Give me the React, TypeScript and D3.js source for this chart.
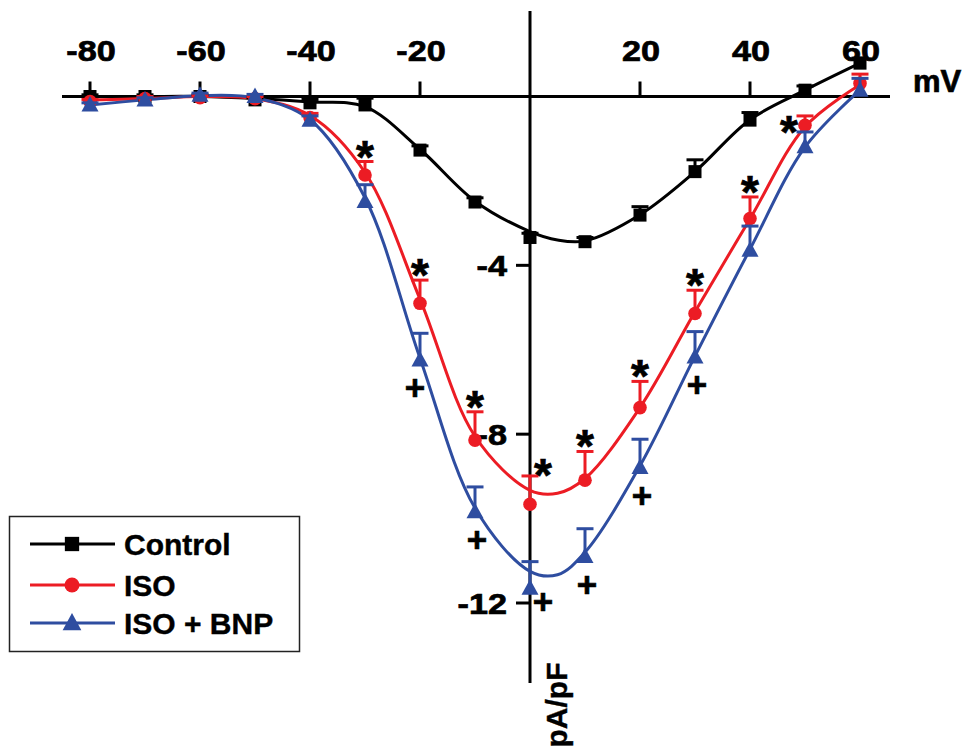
import React from "react";
import * as d3 from "d3";

// ---- data ----
const voltages = [-80, -70, -60, -50, -40, -30, -20, -10, 0, 10, 20, 30, 40, 50, 60];
const controlMean = [0, 0, 0, -0.08, -0.15, -0.2, -1.27, -2.5, -3.34, -3.44, -2.81, -1.78, -0.56, 0.15, 0.79];
const controlErr = [0.04, 0.04, 0.04, 0.05, 0.08, 0.16, 0.1, 0.1, 0.1, 0.1, 0.2, 0.28, 0.18, 0.1, 0.12];
const isoMean = [-0.12, -0.05, -0.03, -0.05, -0.5, -1.86, -4.9, -8.14, -9.66, -9.09, -7.37, -5.14, -2.89, -0.68, 0.31];
const isoErr = [0.05, 0.05, 0.05, 0.05, 0.1, 0.32, 0.55, 0.67, 0.67, 0.68, 0.62, 0.55, 0.51, 0.22, 0.22];
const bnpMean = [-0.2, -0.08, 0.03, 0.0, -0.56, -2.49, -6.24, -9.84, -11.65, -10.9, -8.79, -6.17, -3.64, -1.19, 0.15];
const bnpErr = [0.05, 0.05, 0.05, 0.05, 0.1, 0.4, 0.63, 0.59, 0.63, 0.66, 0.67, 0.6, 0.57, 0.35, 0.28];

// fitted curves
const fitVoltages = [-80, -70, -60, -50, -40, -30, -20, -10, 0, 5, 10, 20, 30, 40, 50, 60];
const controlFit = [0, 0, 0, -0.05, -0.13, -0.24, -1.25, -2.48, -3.2, -3.4, -3.42, -2.8, -1.78, -0.55, 0.15, 0.79];
const isoFit = [-0.08, -0.05, 0, -0.05, -0.45, -1.8, -4.8, -8.05, -9.33, -9.4, -9.05, -7.37, -5.1, -2.9, -0.72, 0.28];
const bnpFit = [-0.2, -0.08, 0.02, -0.03, -0.55, -2.4, -6.2, -9.75, -11.25, -11.33, -10.8, -8.75, -6.15, -3.62, -1.2, 0.15];

const xTicks = [-80, -60, -40, -20, 20, 40, 60];
const yTicks = [-4, -8, -12];
const starVoltages = [-30, -20, -10, 0, 10, 20, 30, 40, 50];
const plusVoltages = [-20, -10, 0, 10, 20, 30];
const legendLabels = ["Control", "ISO", "ISO + BNP"];

const BLACK = "#000000";
const RED = "#ec1c24";
const BLUE = "#2e4da0";
const FONT = "'Liberation Sans', Arial, Helvetica, sans-serif";

const x = d3.scaleLinear().domain([-80, 60]).range([90, 860]);
const y = d3.scaleLinear().domain([0, -12]).range([96.5, 603]);

function Marker({ kind, cx, cy, color, s = 1 }: { kind: string; cx: number; cy: number; color: string; s?: number }) {
  if (kind === "square") return <rect x={cx - 6.5 * s} y={cy - 6.5 * s} width={13 * s} height={13 * s} fill={color} />;
  if (kind === "circle") return <circle cx={cx} cy={cy} r={6.8 * s} fill={color} />;
  const p = d3.path();
  p.moveTo(cx, cy - 9 * s);
  p.lineTo(cx + 8.5 * s, cy + 6.5 * s);
  p.lineTo(cx - 8.5 * s, cy + 6.5 * s);
  p.closePath();
  return <path d={p.toString()} fill={color} />;
}

const series = [
  { name: legendLabels[0], mean: controlMean, err: controlErr, fit: controlFit, color: BLACK, kind: "square" },
  { name: legendLabels[1], mean: isoMean, err: isoErr, fit: isoFit, color: RED, kind: "circle" },
  { name: legendLabels[2], mean: bnpMean, err: bnpErr, fit: bnpFit, color: BLUE, kind: "triangle" },
];

export default function App() {
  const lineGen = d3
    .line<number>()
    .x((_, i) => x(fitVoltages[i]))
    .y((d) => y(d))
    .curve(d3.curveCatmullRom.alpha(0.5));

  const x0 = x(0);
  const y0 = y(0);
  const textStyle = { fontFamily: FONT, fontWeight: 700, stroke: BLACK, strokeWidth: 0.7 };

  return (
    <svg
      width={976}
      height={753}
      style={{ position: "absolute", left: 0, top: 0, background: "#fff" }}
    >
      <rect x={0} y={0} width={976} height={753} fill="#fff" />
      {/* axes */}
      <line x1={62} x2={890} y1={y0} y2={y0} stroke={BLACK} strokeWidth={3} />
      <line x1={x0} x2={x0} y1={11} y2={683} stroke={BLACK} strokeWidth={3} />
      {xTicks.map((t) => (
        <g key={"xt" + t}>
          <line x1={x(t)} x2={x(t)} y1={y0} y2={y0 - 15} stroke={BLACK} strokeWidth={3} />
          <text
            transform={`translate(${x(t) + 1},61) scale(1.14,1)`}
            textAnchor="middle"
            fontSize={30}
            {...textStyle}
          >
            {t}
          </text>
        </g>
      ))}
      {yTicks.map((t) => (
        <g key={"yt" + t}>
          <line x1={x0 - 14} x2={x0} y1={y(t)} y2={y(t)} stroke={BLACK} strokeWidth={3} />
          <text
            transform={`translate(507,${y(t) + 11}) scale(1.14,1)`}
            textAnchor="end"
            fontSize={30}
            {...textStyle}
          >
            {t}
          </text>
        </g>
      ))}
      <text x={913} y={92} fontSize={31} {...textStyle}>
        mV
      </text>
      <text
        transform={`translate(567,705) rotate(-90)`}
        textAnchor="middle"
        fontSize={30}
        {...textStyle}
        strokeWidth={0.4}
      >
        pA/pF
      </text>

      {/* curves */}
      {series.map((s) => (
        <path
          key={"c" + s.name}
          d={lineGen(s.fit) || ""}
          fill="none"
          stroke={s.color}
          strokeWidth={3}
        />
      ))}

      {/* error bars and markers */}
      {series.map((s) => (
        <g key={"m" + s.name}>
          {voltages.map((v, i) => {
            const cx = x(v);
            const cy = y(s.mean[i]);
            const top = y(s.mean[i] + s.err[i]);
            return (
              <g key={v}>
                <line x1={cx} x2={cx} y1={cy} y2={top} stroke={s.color} strokeWidth={3} />
                <line x1={cx - 8.5} x2={cx + 8.5} y1={top} y2={top} stroke={s.color} strokeWidth={3} />
                <Marker kind={s.kind} cx={cx} cy={cy} color={s.color} />
              </g>
            );
          })}
        </g>
      ))}

      {/* significance marks */}
      {starVoltages.map((v) => {
        const i = voltages.indexOf(v);
        let cx = x(v);
        let cy = y(isoMean[i] + isoErr[i]) - 15;
        if (v === 0) {
          cx += 13;
          cy += 4;
        }
        if (v === 50) {
          cx -= 16;
          cy = y(isoMean[i]) - 3;
        }
        return (
          <text key={"s" + v} x={cx} y={cy + 26} textAnchor="middle" fontSize={46} {...textStyle}>
            *
          </text>
        );
      })}
      {plusVoltages.map((v) => {
        const i = voltages.indexOf(v);
        let cx = x(v) + 2;
        let cy = y(bnpMean[i]) + 28;
        if (v === -20) cx -= 7;
        if (v === 0) {
          cx += 11;
          cy -= 14;
        }
        return (
          <text key={"p" + v} x={cx} y={cy + 12} textAnchor="middle" fontSize={35} {...textStyle}>
            +
          </text>
        );
      })}

      {/* legend */}
      <rect x={9.5} y={516.5} width={290} height={135} fill="#fff" stroke="#222" strokeWidth={1.5} />
      {series.map((s, i) => {
        const ry = [544, 585, 623][i];
        return (
          <g key={"l" + s.name}>
            <line x1={30} x2={115} y1={ry} y2={ry} stroke={s.color} strokeWidth={3} />
            <Marker kind={s.kind} cx={72} cy={ry} color={s.color} s={1.1} />
            <text x={124} y={ry + 11} fontSize={30} {...textStyle} strokeWidth={0.4}>
              {s.name}
            </text>
          </g>
        );
      })}
    </svg>
  );
}
